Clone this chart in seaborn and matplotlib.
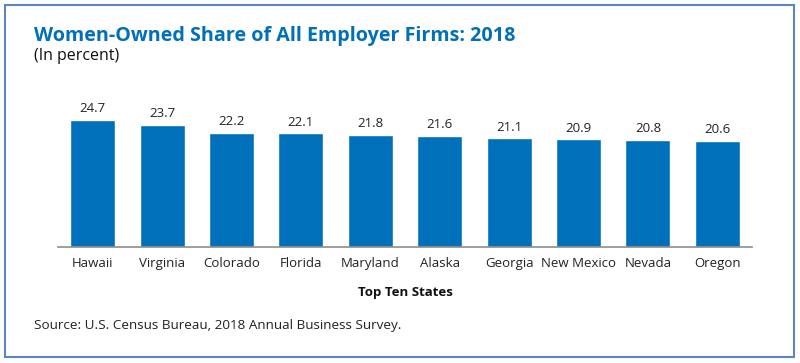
import matplotlib
matplotlib.use("Agg")
import matplotlib.pyplot as plt
import seaborn as sns
import pandas as pd
from matplotlib.patches import Rectangle

# data
states = ["Hawaii", "Virginia", "Colorado", "Florida", "Maryland",
          "Alaska", "Georgia", "New Mexico", "Nevada", "Oregon"]
share = [24.7, 23.7, 22.2, 22.1, 21.8, 21.6, 21.1, 20.9, 20.8, 20.6]

df = pd.DataFrame({"state": states, "share": share})

sns.set_theme(style="white")
plt.rcParams["font.family"] = ["Open Sans", "DejaVu Sans"]

blue = "#0070BA"
fig = plt.figure(figsize=(8, 3.63), dpi=100)
ax = fig.add_axes([0.0725, 0.3196, 0.8675, 0.42])

sns.barplot(data=df, x="state", y="share", color=blue, width=0.65,
            saturation=1, ax=ax)

for i, v in enumerate(share):
    ax.text(i, v + 0.9, f"{v}", ha="center", va="bottom", fontsize=9.5,
            color="#222222")

ax.set_ylim(0, 29.6)
ax.set_xlim(-0.5, len(states) - 0.5)
ax.set_yticks([])
ax.set_ylabel("")
ax.set_xlabel("Top Ten States", fontsize=9.5, fontweight="bold",
              color="#111111", labelpad=12)
ax.tick_params(axis="x", length=0, labelsize=9.5, colors="#222222", pad=7)
for s in ["top", "right", "left"]:
    ax.spines[s].set_visible(False)
ax.spines["bottom"].set_color("#8c8c8c")
ax.spines["bottom"].set_linewidth(1.2)

fig.text(34 / 800, 1 - 36 / 363, "Women-Owned Share of All Employer Firms: 2018",
         fontsize=14.2, fontweight="bold", color=blue, ha="left", va="center")
fig.text(34 / 800, 1 - 56 / 363, "(In percent)", fontsize=11.5,
         color="#111111", ha="left", va="center")
fig.text(34 / 800, 1 - 326 / 363,
         "Source: U.S. Census Bureau, 2018 Annual Business Survey.",
         fontsize=9.7, color="#222222", ha="left", va="center")

fig.patches.append(Rectangle((5 / 800, 6 / 363), 789 / 800, 352 / 363,
                             transform=fig.transFigure, fill=False,
                             edgecolor="#5b87c0", linewidth=1.5))

fig.savefig("out.png", dpi=100)
